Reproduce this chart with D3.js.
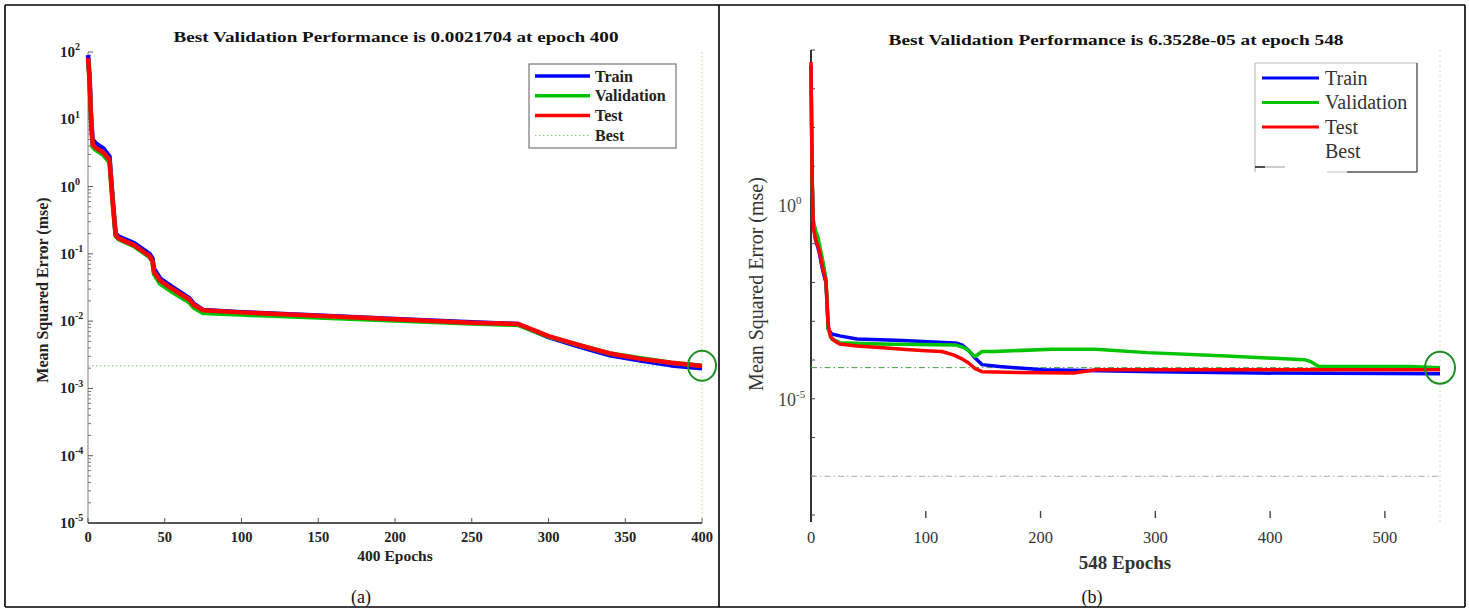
<!DOCTYPE html>
<html>
<head>
<meta charset="utf-8">
<script src="https://cdn.jsdelivr.net/npm/d3@7"></script>
<style>
  body { margin: 0; background: #fff; }
  svg { display: block; font-family: 'Liberation Serif', 'Times New Roman', serif; }
</style>
</head>
<body>
<svg id="chart" width="1469" height="609"></svg>
<script>
// panel (a): 400 epochs, mse values
const epochsA = [0, 1, 2, 3, 5, 10, 14, 16, 18, 20, 30, 40, 42, 43, 47, 55, 66, 69, 75, 100, 150, 200, 250, 280, 290, 300, 320, 340, 360, 380, 400]
const trainA = [90, 45, 11, 5.0, 4.4, 3.7, 2.8, 0.7, 0.2, 0.18, 0.145, 0.1, 0.086, 0.06, 0.043, 0.032, 0.022, 0.018, 0.0147, 0.0136, 0.0121, 0.0108, 0.0096, 0.0091, 0.0072, 0.0058, 0.0042, 0.0031, 0.0026, 0.0022, 0.0020]
const valA = [75, 38, 9.5, 3.9, 3.5, 2.95, 2.3, 0.6, 0.185, 0.165, 0.13, 0.09, 0.077, 0.05, 0.036, 0.027, 0.019, 0.0158, 0.0132, 0.0125, 0.0113, 0.0102, 0.0092, 0.0088, 0.0072, 0.0059, 0.0044, 0.0033, 0.0028, 0.0024, 0.0021704]
const testA = [81, 40, 10, 4.2, 3.8, 3.2, 2.5, 0.63, 0.19, 0.17, 0.135, 0.093, 0.079, 0.054, 0.040, 0.030, 0.021, 0.0174, 0.0145, 0.0135, 0.012, 0.0107, 0.0095, 0.0091, 0.0074, 0.006, 0.0044, 0.0033, 0.00275, 0.0024, 0.00215]
const bestA = { epoch: 400, value: 0.0021704 }
const xTicksA = [0, 50, 100, 150, 200, 250, 300, 350, 400]
const yTicksA = [2, 1, 0, -1, -2, -3, -4, -5]

// panel (b): 548 epochs
const epochsTrainB = [0, 1, 2, 4, 7, 10, 13, 14, 15, 18, 25, 40, 80, 120, 126, 132, 137, 143, 149, 164, 202, 300, 389, 548]
const trainB = [4000, 5.0, 0.32, 0.126, 0.063, 0.022, 0.01, 0.0025, 6.3e-4, 4.7e-4, 4.2e-4, 3.5e-4, 3.2e-4, 2.8e-4, 2.75e-4, 2.4e-4, 1.8e-4, 1.12e-4, 7.6e-5, 6.8e-5, 5.6e-5, 5.0e-5, 4.6e-5, 4.4e-5]
const epochsValB = [0, 1, 2, 4, 6, 10, 13, 14, 15, 18, 25, 60, 126, 133, 137, 141, 143, 149, 160, 210, 248, 293, 362, 430, 436, 442, 522, 548]
const valB = [3200, 4.0, 0.4, 0.22, 0.15, 0.04, 0.0126, 0.0032, 6.3e-4, 3.5e-4, 2.8e-4, 2.6e-4, 2.45e-4, 2.1e-4, 1.8e-4, 1.35e-4, 1.23e-4, 1.66e-4, 1.66e-4, 1.9e-4, 1.9e-4, 1.55e-4, 1.26e-4, 1.02e-4, 8.9e-5, 6.9e-5, 6.8e-5, 6.3528e-5]
const epochsTestB = [0, 1, 2, 4, 7, 10, 13, 14, 15, 17, 20, 25, 40, 60, 80, 100, 114, 124, 132, 137, 143, 149, 170, 229, 248, 548]
const testB = [4900, 5.0, 0.28, 0.126, 0.071, 0.025, 0.0112, 0.0032, 7.9e-4, 4.0e-4, 3.2e-4, 2.6e-4, 2.3e-4, 2.1e-4, 1.9e-4, 1.74e-4, 1.66e-4, 1.35e-4, 1.05e-4, 8.5e-5, 6.0e-5, 5.0e-5, 4.8e-5, 4.6e-5, 5.6e-5, 5.6e-5]
const bestB = { epoch: 548, value: 6.3528e-5 }
const goalB = 1e-7
const xTicksB = [0, 100, 200, 300, 400, 500]
const yTicksB = [4, 3, 2, 1, 0, -1, -2, -3, -4, -5, -6, -7, -8]
const yLabelsB = [0, -5]

const legendNames = ['Train', 'Validation', 'Test', 'Best']
const colors = { Train: '#0000ff', Validation: '#00c400', Test: '#ff0000' }

const svg = d3.select('#chart')
svg.append('rect').attr('width', 1469).attr('height', 609).attr('fill', '#fff')

// table borders
const border = svg.append('g').attr('stroke', '#000').attr('stroke-width', 1.6)
border.append('line').attr('x1', 5).attr('x2', 1465).attr('y1', 5).attr('y2', 5)
border.append('line').attr('x1', 5).attr('x2', 1465).attr('y1', 607).attr('y2', 607)
border.append('line').attr('x1', 5).attr('x2', 5).attr('y1', 5).attr('y2', 607)
border.append('line').attr('x1', 719).attr('x2', 719).attr('y1', 5).attr('y2', 607)
border.append('line').attr('x1', 1465).attr('x2', 1465).attr('y1', 5).attr('y2', 607)

function pow10Label(sel, exp, size, supSize, weight) {
  sel.append('tspan').attr('font-size', size).attr('font-weight', weight).text('10')
  sel.append('tspan').attr('font-size', supSize).attr('font-weight', weight).attr('dy', -size * 0.45).text(exp)
}

function series(epochs, values) {
  return epochs.map((e, i) => ({ e, v: values[i] }))
}

// ---------- panel (a) ----------
{
  const x = d3.scaleLinear().domain([0, 400]).range([88, 702])
  const y = d3.scaleLog().domain([1e-5, 1e2]).range([523, 52])
  const g = svg.append('g')

  // y axis with minor ticks
  g.append('line').attr('x1', 88).attr('x2', 88).attr('y1', 52).attr('y2', 523).attr('stroke', '#b0b0b0').attr('stroke-width', 1.6)
  const minor = []
  for (let p = -5; p < 2; p++) for (let k = 2; k <= 9; k++) minor.push(k * Math.pow(10, p))
  g.selectAll('.minorA').data(minor).join('line').attr('class', 'minorA')
    .attr('x1', 88).attr('x2', 91).attr('y1', (d) => y(d)).attr('y2', (d) => y(d)).attr('stroke', '#777').attr('stroke-width', 1)
  g.selectAll('.majorA').data(yTicksA).join('line').attr('class', 'majorA')
    .attr('x1', 88).attr('x2', 93).attr('y1', (d) => y(Math.pow(10, d))).attr('y2', (d) => y(Math.pow(10, d))).attr('stroke', '#555').attr('stroke-width', 1)
  g.selectAll('.ylabA').data(yTicksA).join('text').attr('class', 'ylabA')
    .attr('x', 60).attr('y', (d) => y(Math.pow(10, d)) + 5).attr('fill', '#222')
    .each(function (d) { pow10Label(d3.select(this), d, 15, 10, 700) })

  // x axis
  g.append('line').attr('x1', 88).attr('x2', 702).attr('y1', 523).attr('y2', 523).attr('stroke', '#555').attr('stroke-width', 1.8)
  g.selectAll('.xtA').data(xTicksA).join('line').attr('class', 'xtA')
    .attr('x1', (d) => x(d)).attr('x2', (d) => x(d)).attr('y1', 523).attr('y2', 518).attr('stroke', '#555').attr('stroke-width', 1)
  g.selectAll('.xlA').data(xTicksA).join('text').attr('class', 'xlA')
    .attr('x', (d) => x(d)).attr('y', 542).attr('text-anchor', 'middle').attr('font-size', 14.5).attr('font-weight', 700).attr('fill', '#222').text((d) => d)

  // best lines
  g.append('line').attr('x1', 88).attr('x2', 702).attr('y1', y(bestA.value)).attr('y2', y(bestA.value))
    .attr('stroke', '#6cc66c').attr('stroke-width', 1).attr('stroke-dasharray', '1.5,2.5')
  g.append('line').attr('x1', x(bestA.epoch)).attr('x2', x(bestA.epoch)).attr('y1', 52).attr('y2', 523)
    .attr('stroke', '#a8dca8').attr('stroke-width', 1).attr('stroke-dasharray', '1.5,2.5')

  const line = d3.line().x((d) => x(d.e)).y((d) => y(d.v))
  ;[['Train', trainA], ['Validation', valA], ['Test', testA]].forEach(([name, vals]) => {
    g.append('path').datum(series(epochsA, vals)).attr('d', line).attr('fill', 'none')
      .attr('stroke', colors[name]).attr('stroke-width', 4.5).attr('stroke-linejoin', 'round')
  })

  g.append('ellipse').attr('cx', x(bestA.epoch)).attr('cy', y(bestA.value)).attr('rx', 14).attr('ry', 15)
    .attr('fill', 'none').attr('stroke', '#1f8f1f').attr('stroke-width', 2)

  // texts
  g.append('text').attr('x', 396).attr('y', 42).attr('text-anchor', 'middle').attr('font-size', 15).attr('font-weight', 700)
    .attr('textLength', 445).attr('lengthAdjust', 'spacingAndGlyphs').attr('fill', '#111')
    .text('Best Validation Performance is 0.0021704 at epoch 400')
  g.append('text').attr('transform', 'translate(48,290) rotate(-90)').attr('text-anchor', 'middle').attr('font-size', 16).attr('font-weight', 700)
    .attr('fill', '#222').text('Mean Squared Error  (mse)')
  g.append('text').attr('x', 395).attr('y', 561).attr('text-anchor', 'middle').attr('font-size', 15.5).attr('font-weight', 700)
    .attr('fill', '#222').text('400 Epochs')

  // legend
  const lg = g.append('g').attr('transform', 'translate(529,64)')
  lg.append('rect').attr('width', 147).attr('height', 84).attr('fill', '#fff').attr('stroke', '#777').attr('stroke-width', 1.2)
  legendNames.forEach((name, i) => {
    const ly = 12 + i * 19.8
    const l = lg.append('line').attr('x1', 6).attr('x2', 61).attr('y1', ly).attr('y2', ly)
    if (name === 'Best') l.attr('stroke', '#6cc66c').attr('stroke-width', 1).attr('stroke-dasharray', '1.5,2.5')
    else l.attr('stroke', colors[name]).attr('stroke-width', 3.5)
    lg.append('text').attr('x', 66).attr('y', ly + 5.5).attr('font-size', 16).attr('font-weight', 700).attr('fill', '#222').text(name)
  })

  svg.append('text').attr('x', 361).attr('y', 603).attr('text-anchor', 'middle').attr('font-size', 18).attr('fill', '#111').text('(a)')
}

// ---------- panel (b) ----------
{
  const x = d3.scaleLinear().domain([0, 548]).range([811, 1440])
  const y = d3.scaleLog().domain([1e-8, 1e4]).range([515, 50])
  const g = svg.append('g')

  g.append('line').attr('x1', 811).attr('x2', 811).attr('y1', 50).attr('y2', 522).attr('stroke', '#333').attr('stroke-width', 2)
  g.selectAll('.ytB').data(yTicksB).join('line').attr('class', 'ytB')
    .attr('x1', 811).attr('x2', 815).attr('y1', (d) => y(Math.pow(10, d))).attr('y2', (d) => y(Math.pow(10, d))).attr('stroke', '#444').attr('stroke-width', 1)
  g.selectAll('.ylB').data(yLabelsB).join('text').attr('class', 'ylB')
    .attr('x', 778).attr('y', (d) => y(Math.pow(10, d)) + 7).attr('fill', '#444')
    .each(function (d) { pow10Label(d3.select(this), d, 18, 11, 400) })

  g.selectAll('.xtB').data(xTicksB.filter((d) => d > 0)).join('line').attr('class', 'xtB')
    .attr('x1', (d) => x(d)).attr('x2', (d) => x(d)).attr('y1', 511).attr('y2', 518).attr('stroke', '#444').attr('stroke-width', 1.4)
  g.selectAll('.xlB').data(xTicksB).join('text').attr('class', 'xlB')
    .attr('x', (d) => x(d)).attr('y', 543).attr('text-anchor', 'middle').attr('font-size', 16.5).attr('fill', '#333').text((d) => d)

  // best, goal and epoch lines
  g.append('line').attr('x1', 811).attr('x2', 1440).attr('y1', y(bestB.value)).attr('y2', y(bestB.value))
    .attr('stroke', '#3f9f3f').attr('stroke-width', 1).attr('stroke-dasharray', '6,3,1.5,3')
  g.append('line').attr('x1', 811).attr('x2', 1440).attr('y1', y(goalB)).attr('y2', y(goalB))
    .attr('stroke', '#aaa').attr('stroke-width', 1).attr('stroke-dasharray', '6,3,1.5,3')
  g.append('line').attr('x1', x(bestB.epoch)).attr('x2', x(bestB.epoch)).attr('y1', 50).attr('y2', 522)
    .attr('stroke', '#c4e4c4').attr('stroke-width', 1).attr('stroke-dasharray', '2,3')

  const line = d3.line().x((d) => x(d.e)).y((d) => y(d.v))
  ;[['Train', epochsTrainB, trainB], ['Validation', epochsValB, valB], ['Test', epochsTestB, testB]].forEach(([name, ep, vals]) => {
    g.append('path').datum(series(ep, vals)).attr('d', line).attr('fill', 'none')
      .attr('stroke', colors[name]).attr('stroke-width', 3.5).attr('stroke-linejoin', 'round')
  })

  g.append('ellipse').attr('cx', x(bestB.epoch)).attr('cy', y(bestB.value)).attr('rx', 15).attr('ry', 16)
    .attr('fill', 'none').attr('stroke', '#1f8f1f').attr('stroke-width', 2)

  g.append('text').attr('x', 1116).attr('y', 45).attr('text-anchor', 'middle').attr('font-size', 15.5).attr('font-weight', 700)
    .attr('textLength', 455).attr('lengthAdjust', 'spacingAndGlyphs').attr('fill', '#111')
    .text('Best Validation Performance is 6.3528e-05 at epoch 548')
  g.append('text').attr('transform', 'translate(763,284) rotate(-90)').attr('text-anchor', 'middle').attr('font-size', 20)
    .attr('fill', '#333').text('Mean Squared Error  (mse)')
  g.append('text').attr('x', 1125).attr('y', 569).attr('text-anchor', 'middle').attr('font-size', 19).attr('font-weight', 700)
    .attr('fill', '#333').text('548 Epochs')

  // legend with its broken frame
  const lg = g.append('g').attr('transform', 'translate(1255,63)')
  lg.append('rect').attr('width', 162).attr('height', 109).attr('fill', '#fff').attr('stroke', 'none')
  lg.append('line').attr('x1', 0).attr('x2', 162).attr('y1', 0).attr('y2', 0).attr('stroke', '#bbb').attr('stroke-width', 1.2)
  lg.append('line').attr('x1', 0).attr('x2', 0).attr('y1', 0).attr('y2', 109).attr('stroke', '#bbb').attr('stroke-width', 1.2)
  lg.append('line').attr('x1', 162).attr('x2', 162).attr('y1', 0).attr('y2', 109).attr('stroke', '#555').attr('stroke-width', 1.4)
  lg.append('line').attr('x1', 0).attr('x2', 10).attr('y1', 104).attr('y2', 104).attr('stroke', '#222').attr('stroke-width', 1.6)
  lg.append('line').attr('x1', 10).attr('x2', 30).attr('y1', 104).attr('y2', 104).attr('stroke', '#aaa').attr('stroke-width', 1.2)
  lg.append('line').attr('x1', 72).attr('x2', 92).attr('y1', 109).attr('y2', 109).attr('stroke', '#ccc').attr('stroke-width', 1.2)
  lg.append('line').attr('x1', 92).attr('x2', 162).attr('y1', 109).attr('y2', 109).attr('stroke', '#555').attr('stroke-width', 1.4)
  legendNames.forEach((name, i) => {
    const ly = 15 + i * 24.5
    if (name !== 'Best') {
      lg.append('line').attr('x1', 7).attr('x2', 64).attr('y1', ly).attr('y2', ly).attr('stroke', colors[name]).attr('stroke-width', 3)
    }
    lg.append('text').attr('x', 70).attr('y', ly + 6.5).attr('font-size', 20).attr('fill', '#333').text(name)
  })

  svg.append('text').attr('x', 1092).attr('y', 603).attr('text-anchor', 'middle').attr('font-size', 18).attr('fill', '#111').text('(b)')
}
</script>
</body>
</html>
